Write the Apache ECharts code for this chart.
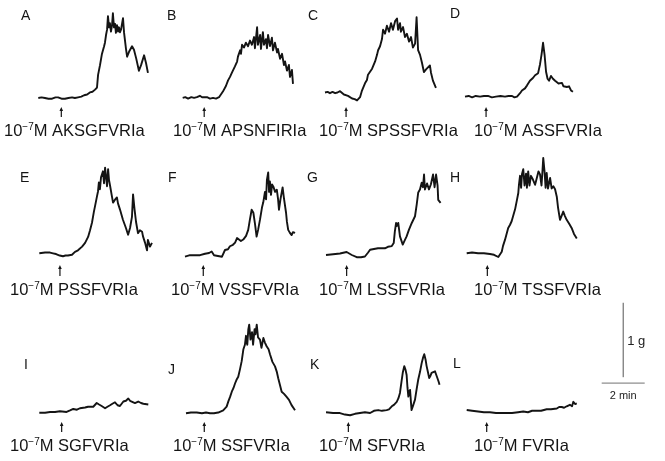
<!DOCTYPE html>
<html>
<head>
<meta charset="utf-8">
<script src="https://cdn.jsdelivr.net/npm/echarts/dist/echarts.min.js"></script>
<style>
  html, body { margin: 0; padding: 0; background: #ffffff; }
  #chart { width: 665px; height: 461px; }
</style>
</head>
<body>
<div id="chart"></div>
<script>
// Isometric tension recordings: responses to 10^-7 M of each peptide analogue.
// Time in minutes (from start of trace), tension in grams above the resting level.

const panelLetters = ['A', 'B', 'C', 'D', 'E', 'F', 'G', 'H', 'I', 'J', 'K', 'L'];
const peptides = ['AKSGFVRIa', 'APSNFIRIa', 'SPSSFVRIa', 'ASSFVRIa',
                  'PSSFVRIa', 'VSSFVRIa', 'LSSFVRIa', 'TSSFVRIa',
                  'SGFVRIa', 'SSFVRIa', 'SFVRIa', 'FVRIa'];
const doseMantissa = '10';
const doseExponent = '-7';
const doseUnit = 'M';
// time (min) at which the peptide was applied
const applicationTimes = [1.07, 1.00, 0.98, 0.98, 0.96, 0.85, 0.96, 0.96, 1.04, 0.85, 1.04, 0.93];

const traceA = [[0,0],[0.15,0.01],[0.31,0],[0.47,-0.01],[0.64,-0.01],[0.8,0.01],[0.92,0.01],[1.08,-0.01],[1.24,-0.01],[1.4,0],[1.57,0.01],[1.7,0],[1.85,0.01],[2.0,0.02],[2.13,0.04],[2.27,0.05],[2.40,0.08],[2.52,0.09],[2.64,0.12],[2.73,0.15],[2.78,0.33],[2.87,0.47],[2.96,0.63],[3.06,0.74],[3.10,0.79],[3.15,0.90],[3.20,0.98],[3.24,1.17],[3.29,1.01],[3.33,1.07],[3.38,0.95],[3.43,1.04],[3.47,1.21],[3.52,1.01],[3.57,1.06],[3.61,0.93],[3.66,1.04],[3.71,0.95],[3.75,1.01],[3.8,0.94],[3.85,0.98],[3.94,1.14],[3.99,0.93],[4.08,0.70],[4.13,0.59],[4.22,0.66],[4.36,0.74],[4.45,0.69],[4.55,0.57],[4.68,0.39],[4.78,0.47],[4.92,0.61],[5.01,0.50],[5.10,0.36]];

const traceB = [[0,0],[0.12,0.01],[0.25,-0.01],[0.4,0.01],[0.53,0],[0.66,0.01],[0.80,0.03],[0.9,0.01],[0.99,0],[1.13,0.01],[1.27,-0.01],[1.41,0],[1.55,-0.01],[1.69,0.01],[1.87,0.09],[2.01,0.17],[2.11,0.25],[2.20,0.30],[2.29,0.36],[2.43,0.45],[2.53,0.52],[2.57,0.59],[2.67,0.68],[2.71,0.63],[2.76,0.76],[2.85,0.72],[2.94,0.79],[3.04,0.74],[3.13,0.82],[3.22,0.76],[3.32,0.87],[3.36,0.71],[3.46,1.01],[3.50,0.76],[3.60,0.90],[3.64,0.70],[3.73,0.94],[3.78,0.76],[3.87,0.84],[3.92,0.71],[3.97,0.90],[4.06,0.74],[4.15,0.86],[4.20,0.68],[4.29,0.79],[4.39,0.65],[4.43,0.70],[4.53,0.56],[4.62,0.63],[4.71,0.47],[4.76,0.52],[4.85,0.39],[4.94,0.47],[4.99,0.30],[5.08,0.40],[5.13,0.20]];

const traceC = [[0,0],[0.12,0.01],[0.23,-0.01],[0.35,0.01],[0.47,-0.01],[0.58,0],[0.70,0.02],[0.78,-0.01],[0.88,-0.03],[0.97,-0.04],[1.07,-0.05],[1.16,-0.07],[1.26,-0.09],[1.38,-0.10],[1.49,-0.12],[1.63,-0.07],[1.72,0.03],[1.86,0.14],[1.95,0.19],[2.00,0.27],[2.09,0.30],[2.19,0.36],[2.33,0.47],[2.42,0.57],[2.47,0.64],[2.56,0.70],[2.65,0.81],[2.70,0.95],[2.79,0.89],[2.88,1.01],[2.98,0.92],[3.07,1.05],[3.16,0.95],[3.26,1.08],[3.35,1.12],[3.40,0.95],[3.49,1.05],[3.53,0.92],[3.63,0.99],[3.72,0.84],[3.81,0.89],[3.91,0.77],[4.00,0.84],[4.09,0.68],[4.19,0.74],[4.26,1.14],[4.33,0.64],[4.42,0.57],[4.51,0.45],[4.60,0.31],[4.70,0.35],[4.79,0.36],[4.88,0.41],[4.93,0.30],[5.02,0.18],[5.16,0.07]];

const traceD = [[0,0],[0.17,0.01],[0.33,-0.01],[0.5,0.01],[0.70,0],[0.88,0.01],[1.07,0.01],[1.25,-0.01],[1.44,0],[1.65,0.01],[1.86,0],[2.02,0.01],[2.19,0.01],[2.30,-0.01],[2.42,0],[2.56,0.05],[2.65,0.09],[2.79,0.12],[2.88,0.16],[3.02,0.23],[3.10,0.24],[3.16,0.27],[3.26,0.31],[3.40,0.34],[3.49,0.47],[3.56,0.61],[3.63,0.78],[3.70,0.61],[3.77,0.36],[3.84,0.26],[3.91,0.23],[4.00,0.30],[4.09,0.26],[4.19,0.23],[4.28,0.24],[4.35,0.19],[4.42,0.18],[4.51,0.20],[4.58,0.15],[4.65,0.16],[4.74,0.14],[4.84,0.15],[4.93,0.09],[5.02,0.07]];

const traceE = [[0,0],[0.27,0.01],[0.50,0.01],[0.64,0],[0.78,-0.01],[0.95,-0.03],[1.10,-0.04],[1.22,-0.03],[1.33,-0.03],[1.52,-0.02],[1.66,0.02],[1.80,0.04],[1.99,0.09],[2.13,0.14],[2.22,0.16],[2.27,0.22],[2.36,0.31],[2.45,0.41],[2.54,0.56],[2.59,0.63],[2.68,0.76],[2.73,0.83],[2.77,0.95],[2.82,0.86],[2.87,1.02],[2.92,1.03],[2.96,1.10],[3.01,0.94],[3.06,1.15],[3.10,1.17],[3.15,0.90],[3.20,1.13],[3.24,0.99],[3.29,0.91],[3.38,0.76],[3.43,0.68],[3.52,0.72],[3.61,0.75],[3.66,0.67],[3.75,0.59],[3.89,0.45],[4.03,0.34],[4.13,0.25],[4.22,0.34],[4.31,0.49],[4.36,0.79],[4.43,0.59],[4.50,0.42],[4.59,0.27],[4.68,0.31],[4.78,0.29],[4.82,0.23],[4.92,0.14],[5.01,0.04],[5.05,0.18],[5.15,0.09],[5.24,0.14]];

const traceF = [[0,0],[0.23,0.02],[0.47,0.02],[0.70,0.02],[0.93,0.04],[1.12,0.05],[1.24,0.07],[1.35,0.02],[1.53,0.01],[1.72,0.00],[1.86,0.09],[2.00,0.10],[2.09,0.14],[2.23,0.16],[2.33,0.19],[2.42,0.25],[2.51,0.27],[2.60,0.21],[2.71,0.23],[2.84,0.28],[2.94,0.36],[3.02,0.50],[3.10,0.63],[3.18,0.59],[3.26,0.43],[3.33,0.27],[3.40,0.36],[3.49,0.50],[3.58,0.66],[3.64,0.73],[3.72,0.87],[3.77,0.77],[3.81,1.03],[3.87,1.13],[3.91,0.87],[3.95,1.01],[4.00,0.83],[4.05,0.97],[4.11,0.94],[4.19,0.87],[4.27,0.90],[4.33,0.77],[4.37,0.63],[4.44,0.77],[4.54,0.93],[4.60,0.79],[4.70,0.59],[4.74,0.47],[4.80,0.36],[4.88,0.32],[4.96,0.29],[5.02,0.33],[5.12,0.32]];

const traceG = [[0,0],[0.33,0.01],[0.65,0.02],[0.96,0.04],[1.20,0],[1.43,-0.03],[1.63,-0.03],[1.81,-0.02],[1.95,0.03],[2.05,0.07],[2.23,0.08],[2.42,0.09],[2.60,0.09],[2.74,0.09],[2.88,0.11],[3.06,0.12],[3.15,0.16],[3.20,0.31],[3.26,0.43],[3.30,0.39],[3.36,0.43],[3.44,0.25],[3.57,0.14],[3.65,0.19],[3.75,0.25],[3.86,0.34],[3.99,0.43],[4.14,0.52],[4.22,0.68],[4.29,0.84],[4.37,0.88],[4.45,0.97],[4.51,0.91],[4.56,1.08],[4.60,0.88],[4.70,0.96],[4.79,0.88],[4.88,0.95],[4.98,1.08],[5.05,0.91],[5.12,1.08],[5.19,0.93],[5.22,0.74],[5.33,0.70]];

const traceH = [[0,0],[0.25,0.01],[0.53,0.00],[0.80,0.00],[1.08,-0.01],[1.27,-0.02],[1.47,-0.05],[1.63,0.02],[1.69,0.10],[1.78,0.18],[1.93,0.34],[2.01,0.38],[2.09,0.43],[2.18,0.52],[2.25,0.59],[2.34,0.72],[2.40,0.81],[2.43,0.92],[2.48,1.04],[2.53,0.88],[2.57,1.06],[2.63,1.13],[2.69,0.91],[2.76,1.07],[2.80,0.88],[2.86,1.10],[2.92,0.91],[2.99,1.04],[3.08,0.99],[3.18,0.92],[3.27,1.02],[3.34,1.10],[3.41,1.06],[3.48,0.91],[3.53,1.13],[3.56,1.28],[3.62,1.10],[3.67,0.88],[3.72,1.08],[3.78,0.87],[3.88,1.01],[3.95,0.87],[4.03,0.90],[4.11,0.86],[4.19,0.76],[4.25,0.61],[4.34,0.45],[4.41,0.50],[4.49,0.56],[4.57,0.50],[4.65,0.45],[4.76,0.40],[4.88,0.34],[4.99,0.26],[5.12,0.20]];

const traceI = [[0,0],[0.27,0.00],[0.50,0.01],[0.73,0.01],[0.96,0.02],[1.27,0.01],[1.43,0.03],[1.58,0.05],[1.75,0.04],[1.89,0.06],[2.13,0.07],[2.27,0.08],[2.36,0.10],[2.51,0.08],[2.67,0.13],[2.78,0.11],[2.90,0.09],[3.06,0.06],[3.17,0.08],[3.29,0.10],[3.40,0.12],[3.52,0.14],[3.64,0.10],[3.75,0.09],[3.91,0.15],[4.03,0.16],[4.14,0.19],[4.22,0.16],[4.30,0.15],[4.45,0.13],[4.60,0.15],[4.73,0.13],[4.84,0.12],[5.07,0.11]];

const traceJ = [[0,0],[0.23,0.01],[0.50,0.01],[0.74,0],[0.93,0.01],[1.12,0],[1.30,0],[1.50,0.01],[1.73,0.04],[1.89,0.09],[1.97,0.16],[2.05,0.22],[2.13,0.29],[2.21,0.34],[2.28,0.40],[2.35,0.45],[2.43,0.49],[2.51,0.59],[2.59,0.70],[2.67,0.86],[2.74,0.92],[2.79,1.04],[2.85,0.92],[2.90,1.13],[2.94,1.19],[3.00,0.99],[3.07,1.09],[3.12,0.92],[3.19,1.13],[3.23,1.06],[3.29,1.19],[3.35,1.02],[3.44,0.99],[3.51,0.88],[3.60,1.01],[3.67,0.95],[3.75,0.90],[3.84,0.86],[3.91,0.79],[4.02,0.69],[4.14,0.63],[4.22,0.56],[4.29,0.47],[4.37,0.38],[4.45,0.29],[4.56,0.26],[4.68,0.22],[4.79,0.18],[4.91,0.11],[5.00,0.09],[5.07,0.04]];

const traceK = [[0,0],[0.33,-0.01],[0.65,-0.01],[0.88,-0.03],[1.12,-0.04],[1.35,-0.02],[1.58,-0.01],[1.81,0.00],[2.05,-0.01],[2.23,0.02],[2.43,0.03],[2.60,0.02],[2.82,0.03],[2.93,0.04],[3.06,0.08],[3.16,0.10],[3.29,0.14],[3.37,0.19],[3.44,0.26],[3.51,0.41],[3.57,0.53],[3.64,0.62],[3.70,0.57],[3.75,0.50],[3.79,0.33],[3.83,0.21],[3.86,0.27],[3.91,0.30],[3.95,0.14],[3.98,0.03],[4.05,0.09],[4.14,0.17],[4.21,0.30],[4.29,0.44],[4.37,0.54],[4.45,0.66],[4.51,0.73],[4.57,0.78],[4.63,0.71],[4.68,0.62],[4.74,0.54],[4.80,0.46],[4.86,0.49],[4.91,0.53],[5.00,0.52],[5.07,0.55],[5.13,0.50],[5.18,0.46],[5.24,0.41],[5.28,0.37]];

const traceL = [[0,0],[0.25,-0.01],[0.53,-0.02],[0.80,-0.03],[1.08,-0.03],[1.36,-0.04],[1.60,-0.04],[1.86,-0.04],[2.11,-0.04],[2.39,-0.03],[2.63,-0.02],[2.85,-0.03],[3.04,-0.01],[3.26,-0.01],[3.46,-0.01],[3.72,0.01],[3.92,0.01],[4.19,0.02],[4.30,0.04],[4.42,0.04],[4.53,0.03],[4.65,0.05],[4.73,0.05],[4.80,0.07],[4.90,0.05],[4.96,0.11],[5.04,0.08],[5.12,0.09]];

const traces = [traceA, traceB, traceC, traceD, traceE, traceF, traceG, traceH, traceI, traceJ, traceK, traceL];

// calibration bars
const scaleTension = 1;   // g
const scaleTime = 2;      // min
const scaleTensionLabel = '1 g';
const scaleTimeLabel = '2 min';

// ---- layout ----
const PX_PER_MIN = 21.5;
const PX_PER_G = 74.5;
const T_SPAN = 5.5;
const G_MIN = -0.3, G_MAX = 1.4;
// resting level of each trace on the page: [left, baseline]
const panelOrigin = [
  [38.3, 96.7], [182.7, 96.5], [325, 90], [465, 95],
  [39.3, 253.3], [185, 256.7], [326, 255], [466.7, 253.3],
  [39.3, 412.7], [186, 413.3], [326, 412.3], [466.7, 410]
];
const letterPos = [
  [21, 16], [167, 16], [308, 16], [450, 14],
  [20, 178], [168, 178], [307, 178], [450, 178],
  [24, 365], [168, 370], [310, 365], [453, 364]
];
const labelLeft = [4, 173, 319, 474, 10, 171, 319, 474, 10, 173, 319, 474];
const rowLabelY = [131, 290, 446];
const rowArrowY = [[107, 117], [265, 276], [422, 432]];

const ink = '#141414';
const grids = [], xAxes = [], yAxes = [], series = [];

traces.forEach((tr, i) => {
  const [x0, y0] = panelOrigin[i];
  grids.push({ left: x0, top: y0 - G_MAX * PX_PER_G, width: T_SPAN * PX_PER_MIN,
               height: (G_MAX - G_MIN) * PX_PER_G, containLabel: false });
  xAxes.push({ type: 'value', gridIndex: i, min: 0, max: T_SPAN, show: false });
  yAxes.push({ type: 'value', gridIndex: i, min: G_MIN, max: G_MAX, show: false });
  series.push({
    type: 'line', xAxisIndex: i, yAxisIndex: i, data: tr,
    showSymbol: false, symbol: 'none', smooth: false, clip: false,
    lineStyle: { color: ink, width: 1.9, join: 'round' }
  });
});

// calibration grid (same scale as traces)
const scaleLeft = 601.7, scaleTop = 302.7, scaleDrop = 0.08;
const si = traces.length;
grids.push({ left: scaleLeft, top: scaleTop, width: scaleTime * PX_PER_MIN,
             height: (scaleTension + scaleDrop) * PX_PER_G });
xAxes.push({ type: 'value', gridIndex: si, min: 0, max: scaleTime, show: false });
yAxes.push({ type: 'value', gridIndex: si, min: -scaleDrop, max: scaleTension, show: false });
series.push({
  type: 'line', xAxisIndex: si, yAxisIndex: si, showSymbol: false, symbol: 'none',
  data: [[scaleTime / 2, 0], [scaleTime / 2, scaleTension]],
  lineStyle: { color: '#555', width: 1 }
});
series.push({
  type: 'line', xAxisIndex: si, yAxisIndex: si, showSymbol: false, symbol: 'none',
  data: [[0, -scaleDrop], [scaleTime, -scaleDrop]],
  lineStyle: { color: '#555', width: 1 }
});

const chart = echarts.init(document.getElementById('chart'), null, { renderer: 'canvas' });
chart.setOption({
  animation: false,
  backgroundColor: '#ffffff',
  grid: grids, xAxis: xAxes, yAxis: yAxes, series: series
});

// text and application arrows
const FONT = '"Liberation Sans", Arial, Helvetica, sans-serif';
const graphics = [];
panelLetters.forEach((L, i) => {
  graphics.push({
    type: 'text', x: letterPos[i][0], y: letterPos[i][1],
    style: { text: L, fill: ink, font: '14px ' + FONT, verticalAlign: 'middle', align: 'left' }
  });
  const row = Math.floor(i / 4);
  graphics.push({
    type: 'text', x: labelLeft[i], y: rowLabelY[row],
    style: {
      text: '{n|' + doseMantissa + '}{e|' + doseExponent.replace('-', '\u2212') + '}{n|' + doseUnit + ' ' + peptides[i] + '}',
      fill: ink, verticalAlign: 'middle', align: 'left',
      rich: {
        n: { font: '16.5px ' + FONT, fill: ink, lineHeight: 18, verticalAlign: 'bottom' },
        e: { font: '10px ' + FONT, fill: ink, lineHeight: 10, verticalAlign: 'top' }
      }
    }
  });
  const ax = chart.convertToPixel({ gridIndex: i }, [applicationTimes[i], 0])[0];
  const [ya, yb] = rowArrowY[row];
  graphics.push({
    type: 'line', shape: { x1: ax, y1: ya + 2, x2: ax, y2: yb },
    style: { stroke: ink, lineWidth: 1.2 }
  });
  graphics.push({
    type: 'polygon', shape: { points: [[ax, ya], [ax - 1.8, ya + 4], [ax + 1.8, ya + 4]] },
    style: { fill: ink }
  });
});
const barX = chart.convertToPixel({ gridIndex: si }, [scaleTime / 2, scaleTension / 2]);
graphics.push({
  type: 'text', x: barX[0] + 4, y: barX[1] + 1,
  style: { text: scaleTensionLabel, fill: '#222', font: '13px ' + FONT, verticalAlign: 'middle', align: 'left' }
});
const barY = chart.convertToPixel({ gridIndex: si }, [scaleTime / 2, -scaleDrop]);
graphics.push({
  type: 'text', x: barY[0], y: barY[1] + 13,
  style: { text: scaleTimeLabel, fill: '#222', font: '11px ' + FONT, verticalAlign: 'middle', align: 'center' }
});
chart.setOption({ graphic: graphics });
</script>
</body>
</html>
